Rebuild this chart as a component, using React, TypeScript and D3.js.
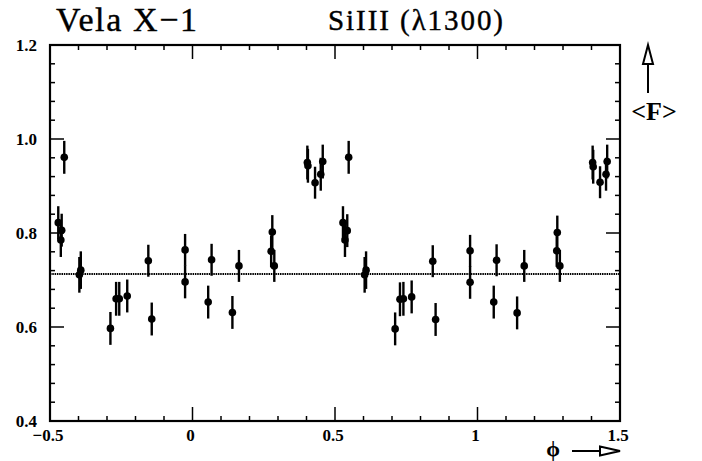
import React from "react";
import * as d3 from "d3";

const phases = [
  -0.450, -0.471, -0.459, -0.462, -0.392, -0.397, -0.288, -0.268, -0.257, -0.229,
  -0.155, -0.143, -0.026, -0.026, 0.067, 0.055, 0.140, 0.163, 0.280, 0.276,
  0.287, 0.403, 0.405, 0.430, 0.450, 0.457, 0.548, 0.528, 0.543, 0.535,
  0.604, 0.609, 0.711, 0.728, 0.740, 0.769, 0.843, 0.853, 0.974, 0.974,
  1.067, 1.057, 1.139, 1.164, 1.280, 1.278, 1.289, 1.404, 1.406, 1.430,
  1.451, 1.455,
];
const fluxes = [
  0.961, 0.822, 0.806, 0.785, 0.721, 0.711, 0.597, 0.660, 0.660, 0.666,
  0.741, 0.617, 0.764, 0.696, 0.743, 0.653, 0.631, 0.730, 0.802, 0.761,
  0.730, 0.950, 0.943, 0.907, 0.925, 0.952, 0.961, 0.822, 0.805, 0.785,
  0.711, 0.721, 0.596, 0.659, 0.660, 0.664, 0.740, 0.616, 0.762, 0.695,
  0.742, 0.653, 0.630, 0.730, 0.801, 0.762, 0.730, 0.950, 0.941, 0.908,
  0.925, 0.952,
];
const errors = [
  0.035, 0.035, 0.035, 0.036, 0.040, 0.038, 0.035, 0.036, 0.036, 0.035,
  0.034, 0.035, 0.034, 0.035, 0.034, 0.035, 0.035, 0.034, 0.036, 0.034,
  0.034, 0.036, 0.036, 0.034, 0.035, 0.036, 0.035, 0.035, 0.035, 0.036,
  0.038, 0.040, 0.035, 0.036, 0.036, 0.035, 0.034, 0.035, 0.034, 0.035,
  0.034, 0.035, 0.035, 0.034, 0.036, 0.034, 0.034, 0.036, 0.036, 0.034,
  0.035, 0.036,
];
const meanFlux = 0.713;
const xTickLabels = ["−0.5", "0", "0.5", "1", "1.5"];
const xTickValues = [-0.5, 0, 0.5, 1, 1.5];
const yTickLabels = ["0.4", "0.6", "0.8", "1.0", "1.2"];
const yTickValues = [0.4, 0.6, 0.8, 1.0, 1.2];

const W = 702;
const H = 461;
const L = 50, R = 620, T = 45, B = 421;

export default function App() {
  const x = d3.scaleLinear().domain([-0.5, 1.5]).range([L, R]);
  const y = d3.scaleLinear().domain([0.4, 1.2]).range([B, T]);

  const xMinor = d3.range(-5, 16).map((i) => i / 10);
  const xMajor = [0, 0.5, 1];
  const yMinor = d3.range(10, 31).map((i) => i * 0.04);
  const yMajor = [0.6, 0.8, 1.0];

  const labelFont = "'Liberation Serif', 'Times New Roman', serif";

  return (
    <svg
      width={W}
      height={H}
      style={{ position: "absolute", left: 0, top: 0, background: "#fff" }}
    >
      {/* Titles */}
      <text x={56} y={31} fontFamily={labelFont} fontSize={34} textLength={141} lengthAdjust="spacing" fill="#000" stroke="#000" strokeWidth={0.4}>
        Vela X−1
      </text>
      <text x={328} y={30} fontFamily={labelFont} fontSize={29} textLength={175} lengthAdjust="spacing" fill="#000" stroke="#000" strokeWidth={0.4}>
        SiIII (λ1300)
      </text>

      {/* Ticks */}
      {xMinor.map((v, i) => {
        const isMajor = xMajor.some((m) => Math.abs(m - v) < 1e-6);
        const len = isMajor ? 14 : 5;
        return (
          <g key={"xt" + i}>
            <line x1={x(v)} x2={x(v)} y1={B} y2={B - len} stroke="#000" strokeWidth={1.5} />
            <line x1={x(v)} x2={x(v)} y1={T} y2={T + len} stroke="#000" strokeWidth={1.5} />
          </g>
        );
      })}
      {yMinor.map((v, i) => {
        const isMajor = yMajor.some((m) => Math.abs(m - v) < 1e-6);
        const len = isMajor ? 14 : 5;
        return (
          <g key={"yt" + i}>
            <line x1={L} x2={L + len} y1={y(v)} y2={y(v)} stroke="#000" strokeWidth={1.5} />
            <line x1={R} x2={R - len} y1={y(v)} y2={y(v)} stroke="#000" strokeWidth={1.5} />
          </g>
        );
      })}

      {/* Mean line */}
      <line
        x1={L}
        x2={R}
        y1={y(meanFlux)}
        y2={y(meanFlux)}
        stroke="#000"
        strokeWidth={2}
        strokeDasharray="1.5 0.8"
      />

      {/* Data */}
      {phases.map((p, i) => (
        <g key={"pt" + i}>
          <line
            x1={x(p)}
            x2={x(p)}
            y1={y(fluxes[i] - errors[i])}
            y2={y(fluxes[i] + errors[i])}
            stroke="#000"
            strokeWidth={2.4}
          />
          <circle cx={x(p)} cy={y(fluxes[i])} r={3.8} fill="#000" />
        </g>
      ))}

      {/* Frame */}
      <rect x={L} y={T} width={R - L} height={B - T} fill="none" stroke="#000" strokeWidth={2.2} />

      {/* Tick labels */}
      {yTickValues.map((v, i) => (
        <text
          key={"yl" + i}
          x={37}
          y={y(v) + 2}
          textAnchor="end"
          dominantBaseline="middle"
          fontFamily={labelFont}
          fontWeight="bold"
          fontSize={17}
          fill="#000"
        >
          {yTickLabels[i]}
        </text>
      ))}
      {xTickValues.map((v, i) => (
        <text
          key={"xl" + i}
          x={x(v) - 2}
          y={437}
          textAnchor="middle"
          dominantBaseline="middle"
          fontFamily={labelFont}
          fontWeight="bold"
          fontSize={17}
          fill="#000"
        >
          {xTickLabels[i]}
        </text>
      ))}

      {/* Up arrow and <F> */}
      <line x1={648} x2={648} y1={93} y2={64} stroke="#000" strokeWidth={2} />
      <path d="M648,45 L643,64 L653,64 Z" fill="#fff" stroke="#000" strokeWidth={2} />
      <text x={654} y={114} textAnchor="middle" dominantBaseline="middle" fontFamily={labelFont} fontWeight="bold" fontSize={26} fill="#000">
        {"<F>"}
      </text>

      {/* phi and right arrow */}
      <text x={553} y={456} textAnchor="middle" fontFamily={labelFont} fontWeight="bold" fontSize={22} fill="#000">
        ϕ
      </text>
      <line x1={572} x2={600} y1={451} y2={451} stroke="#000" strokeWidth={2} />
      <path d="M620,451 L600,446.5 L600,455.5 Z" fill="#fff" stroke="#000" strokeWidth={2} />
    </svg>
  );
}
